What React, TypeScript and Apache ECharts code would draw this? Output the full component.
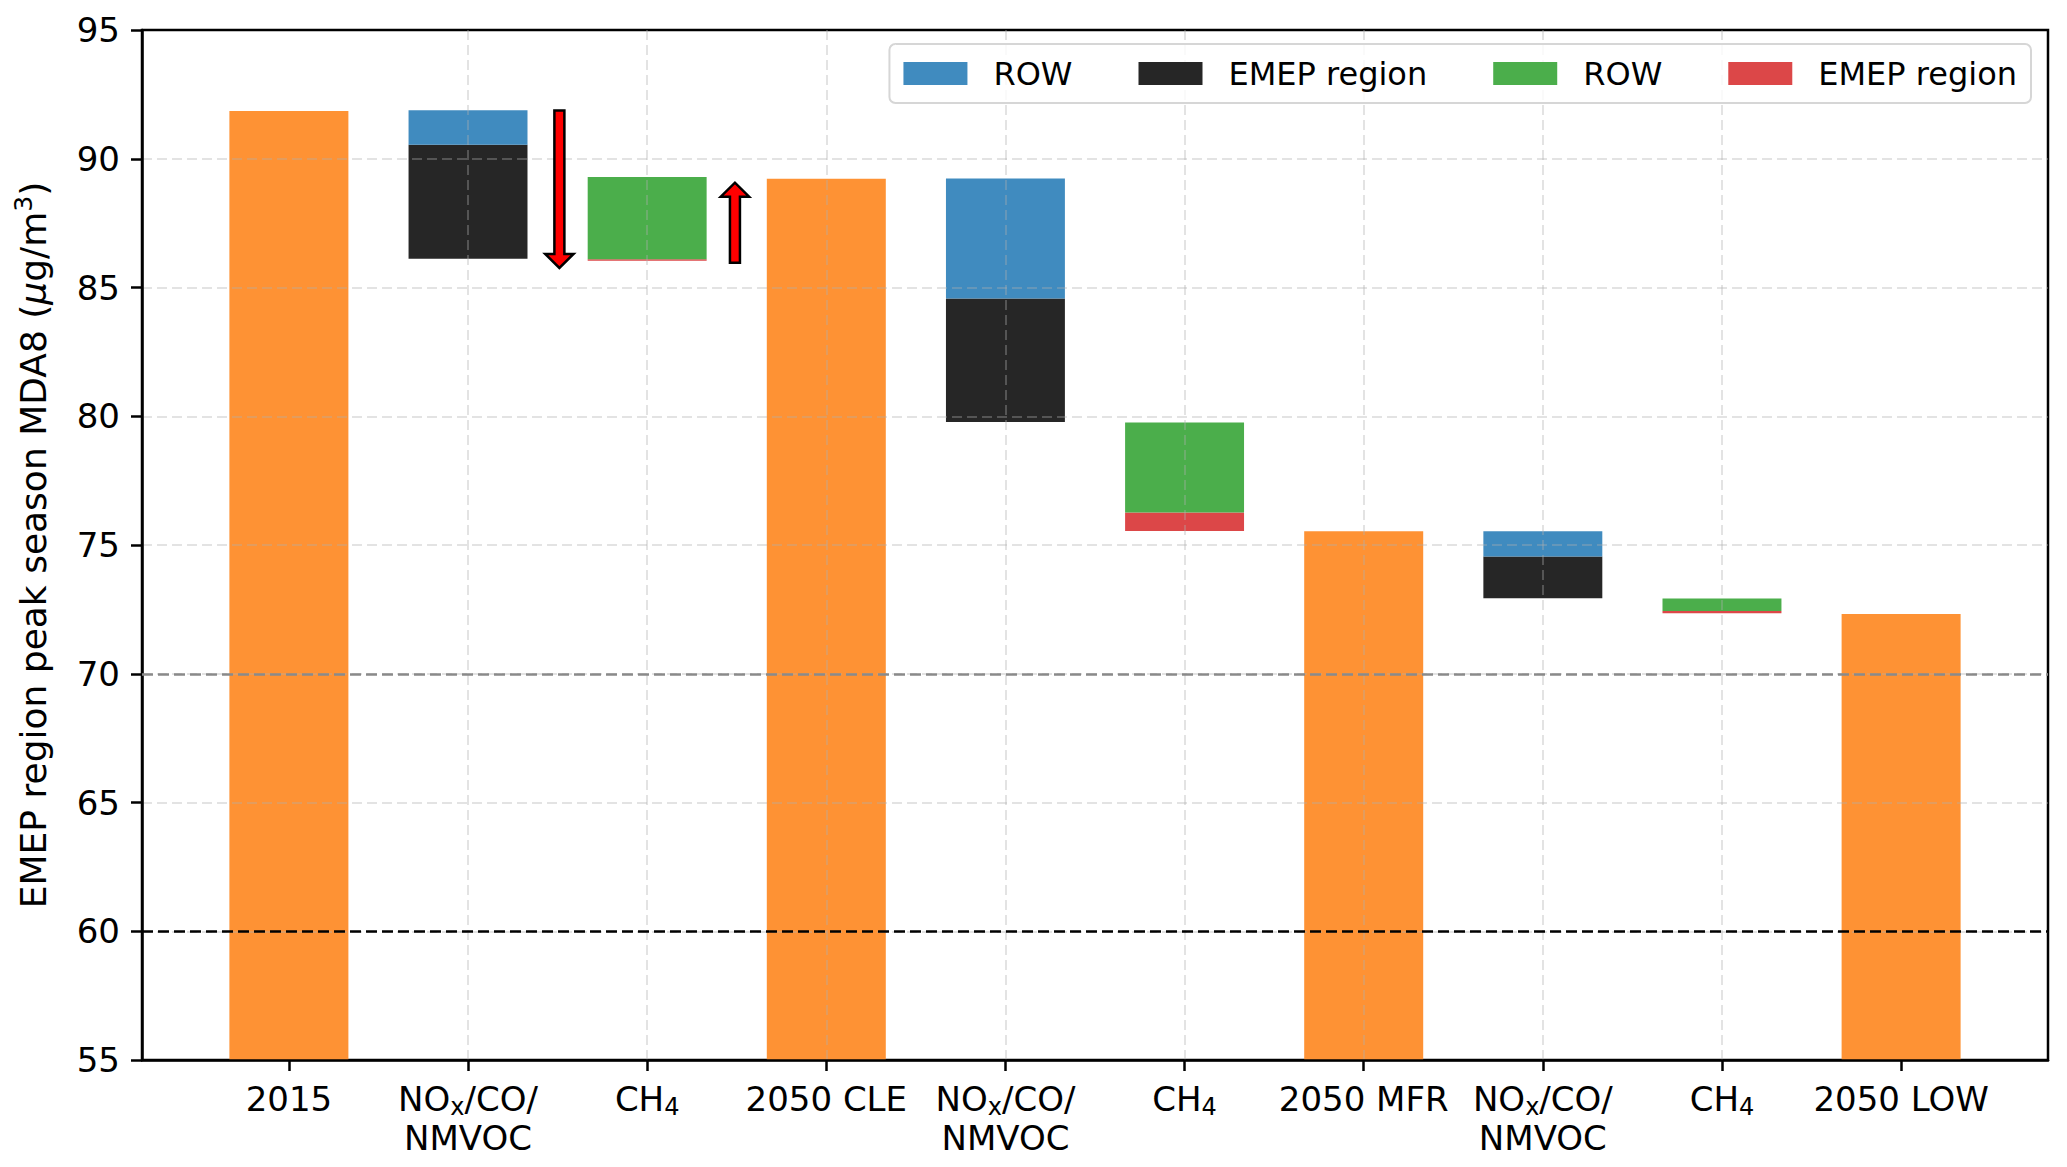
import React, { useEffect, useRef } from 'react';
import * as echarts from 'echarts';

// ---- data ----
const categories = [
  '2015', 'NOx/CO/\nNMVOC', 'CH4', '2050 CLE', 'NOx/CO/\nNMVOC',
  'CH4', '2050 MFR', 'NOx/CO/\nNMVOC', 'CH4', '2050 LOW',
];
const totalValues = [91.85, null, null, 89.22, null, null, 75.53, null, null, 72.32];
const floatBase = [null, 86.12, 86.04, null, 79.78, 75.54, null, 72.93, 72.35, null];
const noxEmep = [null, 4.42, null, null, 4.79, null, null, 1.62, null, null];
const ch4Emep = [null, null, 0.06, null, null, 0.72, null, null, 0.09, null];
const noxRow = [null, 1.34, null, null, 4.66, null, null, 0.98, null, null];
const ch4Row = [null, null, 3.19, null, null, 3.5, null, null, 0.48, null];
const yMin = 55;
const yMax = 95;
const yStep = 5;
const refLineGray = 70;
const refLineBlack = 60;
const arrowX = [1.51, 2.49];
const arrowFrom = [91.87, 85.96];
const arrowTo = [85.76, 89.07];

const FONT = 'DejaVu Sans';
const BAR_FRAC = 0.664;

function lineToRich(line: string, st: string): string {
  const out: string[] = [];
  const re = /(NO)(x)|(CH)(4)/g;
  let last = 0;
  let m: RegExpExecArray | null;
  while ((m = re.exec(line))) {
    if (m.index > last) out.push(`{${st}|${line.slice(last, m.index)}}`);
    out.push(`{${st}|${m[1] || m[3]}}{s|${m[2] || m[4]}}`);
    last = re.lastIndex;
  }
  if (last < line.length) out.push(`{${st}|${line.slice(last)}}`);
  return out.join('');
}

function toRich(label: string): string {
  return label
    .split('\n')
    .map((l, i) => lineToRich(l, i === 0 ? 'm' : 'n'))
    .join('\n');
}

// segments [x, low, high]; `below` holds the part under this segment
function segments(base: (number | null)[], below: (number | null)[] | null, own: (number | null)[]) {
  const out: number[][] = [];
  own.forEach((v, i) => {
    if (v == null || base[i] == null) return;
    const lo = (base[i] as number) + (below && below[i] != null ? (below[i] as number) : 0);
    out.push([i, lo, lo + v]);
  });
  return out;
}

export default function App() {
  const ref = useRef<HTMLDivElement>(null);

  useEffect(() => {
    if (!ref.current) return;
    const chart = echarts.init(ref.current, undefined, { renderer: 'svg' });
    const idx = categories.map((_, i) => i);

    const floatSeries = (name: string, data: number[][], color: string) => ({
      type: 'custom',
      name,
      data,
      z: 2,
      itemStyle: { color },
      encode: { x: 0, y: [1, 2] },
      renderItem: (_params: any, api: any) => {
        const x = api.value(0);
        const top = api.coord([x, api.value(2)]);
        const bot = api.coord([x, api.value(1)]);
        const w = api.size([BAR_FRAC, 0])[0];
        return {
          type: 'rect',
          shape: { x: top[0] - w / 2, y: top[1], width: w, height: bot[1] - top[1] },
          style: { fill: color },
        };
      },
    });

    const gridLine = { color: 'rgba(176,176,176,0.35)', width: 2, type: [10, 5] };

    const option: any = {
      animation: false,
      backgroundColor: '#fff',
      grid: {
        left: 142,
        right: 19,
        top: 30,
        bottom: 107,
        show: true,
        borderColor: '#000',
        borderWidth: 2.5,
        backgroundColor: 'transparent',
      },
      legend: {
        right: 36,
        top: 44,
        orient: 'horizontal',
        data: ['ROW', 'EMEP region', 'ROW\u200B', 'EMEP region\u200B'],
        formatter: (n: string) => n.replace(/\u200B/g, ''),
        icon: 'rect',
        itemWidth: 64,
        itemHeight: 23,
        itemGap: 66,
        padding: [12, 14],
        borderColor: '#d6d6d6',
        borderWidth: 2,
        borderRadius: 6,
        backgroundColor: 'rgba(255,255,255,0.8)',
        selectedMode: false,
        textStyle: {
          fontFamily: FONT,
          fontSize: 32,
          color: '#000',
          lineHeight: 35,
          padding: [0, 0, 0, 21],
        },
      },
      xAxis: {
        type: 'value',
        min: -0.82,
        max: 9.82,
        z: 3,
        axisLine: { show: true, onZero: false, lineStyle: { color: '#000', width: 2.5 } },
        axisTick: {
          show: true,
          customValues: idx,
          length: 11,
          lineStyle: { color: '#000', width: 2.5 },
        },
        axisLabel: {
          customValues: idx,
          margin: 19,
          formatter: (v: number) => toRich(categories[Math.round(v)]),
          rich: {
            m: { fontFamily: FONT, fontSize: 34, lineHeight: 40, color: '#000', align: 'center' },
            n: { fontFamily: FONT, fontSize: 34, lineHeight: 37, color: '#000', align: 'center' },
            s: { fontFamily: FONT, fontSize: 24, lineHeight: 23, verticalAlign: 'bottom', color: '#000', align: 'center' },
          },
        },
        splitLine: { show: true, showMinLine: false, showMaxLine: false, lineStyle: gridLine },
      },
      yAxis: {
        type: 'value',
        min: yMin,
        max: yMax,
        interval: yStep,
        z: 3,
        name: '{t|EMEP region peak season MDA8 (}{i|\u03bc}{t|g/m}{sup|3}{t|)}',
        nameLocation: 'middle',
        nameRotate: 90,
        nameGap: 87,
        nameTextStyle: {
          rich: {
            t: { fontFamily: FONT, fontSize: 36, lineHeight: 44, color: '#000' },
            i: { fontFamily: FONT, fontSize: 36, lineHeight: 44, fontStyle: 'italic', color: '#000' },
            sup: { fontFamily: FONT, fontSize: 25, lineHeight: 24, verticalAlign: 'top', color: '#000' },
          },
        },
        axisLine: { show: true, onZero: false, lineStyle: { color: '#000', width: 2.5 } },
        axisTick: { show: true, length: 11, lineStyle: { color: '#000', width: 2.5 } },
        axisLabel: { fontFamily: FONT, fontSize: 34, color: '#000', margin: 22 },
        splitLine: { show: true, showMinLine: false, showMaxLine: false, lineStyle: gridLine },
      },
      series: [
        {
          type: 'bar',
          name: 'totals',
          barWidth: 119,
          data: totalValues.map((v, i) => [i, v]),
          itemStyle: { color: '#fe9234' },
          emphasis: { disabled: true },
          z: 2,
          markLine: {
            silent: true,
            symbol: ['none', 'none'],
            label: { show: false },
            z: 5,
            data: [
              { yAxis: refLineGray, lineStyle: { color: '#8a8a8a', width: 2.6, type: [11, 5] } },
              { yAxis: refLineBlack, lineStyle: { color: '#000', width: 2.6, type: [11, 5] } },
            ],
          },
        },
        floatSeries('EMEP region', segments(floatBase, null, noxEmep), '#262626'),
        floatSeries('ROW', segments(floatBase, noxEmep, noxRow), '#408bbf'),
        floatSeries('EMEP region\u200B', segments(floatBase, null, ch4Emep), '#dc4748'),
        floatSeries('ROW\u200B', segments(floatBase, ch4Emep, ch4Row), '#4bae4b'),
      ],
    };

    chart.setOption(option);

    const graphics = arrowX.map((x, k) => {
      const p0 = chart.convertToPixel({ xAxisIndex: 0, yAxisIndex: 0 }, [x, arrowFrom[k]]) as number[];
      const p1 = chart.convertToPixel({ xAxisIndex: 0, yAxisIndex: 0 }, [x, arrowTo[k]]) as number[];
      const cx = p0[0];
      const y0 = p0[1];
      const y1 = p1[1];
      const d = y1 > y0 ? 1 : -1;
      const w = 5;
      const hw = 14.2;
      const hl = 14;
      const yh = y1 - d * hl;
      return {
        type: 'polygon',
        z: 10,
        silent: true,
        shape: {
          points: [
            [cx - w, y0], [cx + w, y0], [cx + w, yh], [cx + hw, yh],
            [cx, y1], [cx - hw, yh], [cx - w, yh],
          ],
        },
        style: { fill: '#ff0000', stroke: '#000', lineWidth: 2.5, lineJoin: 'miter' },
      };
    });
    chart.setOption({ graphic: graphics });

    return () => chart.dispose();
  }, []);

  return (
    <div
      ref={ref}
      style={{ position: 'absolute', left: 0, top: 0, width: 2067, height: 1167 }}
    />
  );
}
